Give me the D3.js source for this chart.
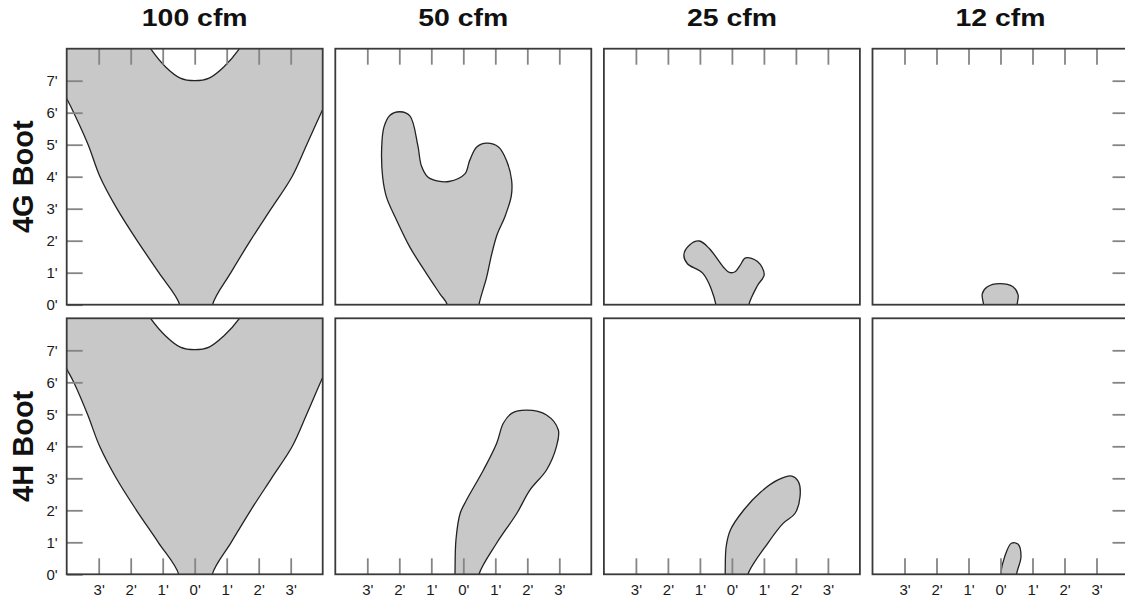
<!DOCTYPE html>
<html>
<head>
<meta charset="utf-8">
<script src="https://cdn.jsdelivr.net/npm/d3@7"></script>
<style>
  body { margin: 0; background: #fff; }
  svg { display: block; }
</style>
</head>
<body>
<script>
// column and row labels
const cfmLabels = ["100 cfm", "50 cfm", "25 cfm", "12 cfm"];
const bootLabels = ["4G Boot", "4H Boot"];

// tick values (feet)
const xTicks = [-3, -2, -1, 0, 1, 2, 3];
const yTicks = [0, 1, 2, 3, 4, 5, 6, 7];
const yTicksRight = [1, 2, 3, 4, 5, 6, 7];

// contour outlines, [x ft, height ft]
// points outside the panel get clipped away
const g100 = [[-0.47, 0], [-1.12, 1], [-1.8, 2], [-2.43, 3], [-2.96, 4], [-3.33, 5], [-3.78, 6],
  [-3.97, 6.38], [-4.5, 7.3], [-4.5, 8.6], [-1.75, 8.6], [-1.38, 8], [-0.9, 7.42], [-0.45, 7.08],
  [0, 7.0], [0.45, 7.08], [0.9, 7.42], [1.4, 8], [1.75, 8.6], [4.5, 8.6], [4.5, 7.2],
  [4.02, 6.15], [3.5, 5], [3.04, 4], [2.39, 3], [1.74, 2], [1.13, 1], [0.56, 0],
  [0.58, -0.6], [-0.5, -0.6]];
const g50 = [[-0.5, 0], [-0.73, 0.34], [-1.15, 0.97], [-1.67, 1.8], [-2.08, 2.63], [-2.4, 3.36],
  [-2.52, 3.99], [-2.55, 4.93], [-2.48, 5.55], [-2.29, 5.92], [-1.98, 6.03], [-1.67, 5.9],
  [-1.42, 4.97], [-1.31, 4.34], [-1.1, 3.98], [-0.78, 3.86], [-0.45, 3.85], [0.05, 4.09],
  [0.2, 4.51], [0.42, 4.93], [0.73, 5.05], [1.1, 4.93], [1.35, 4.51], [1.51, 3.89], [1.5, 3.4],
  [1.3, 2.75], [1.06, 2.2], [0.89, 1.59], [0.73, 0.86], [0.49, 0], [0.45, -0.5], [-0.5, -0.5]];
const g25 = [[-0.5, 0], [-0.9, 0.97], [-1.39, 1.28], [-1.5, 1.56], [-1.33, 1.86], [-1.02, 1.99],
  [-0.7, 1.75], [-0.27, 1.18], [-0.08, 1.01], [0.1, 1.03], [0.25, 1.22], [0.43, 1.46], [0.8, 1.35],
  [1.01, 0.94], [0.8, 0.6], [0.53, 0], [0.5, -0.5], [-0.5, -0.5]];
const g12 = [[-0.53, 0], [-0.57, 0.34], [-0.41, 0.56], [-0.03, 0.66], [0.39, 0.56], [0.55, 0.31],
  [0.52, 0], [0.52, -0.5], [-0.53, -0.5]];

const h100 = [[-0.5, 0], [-1.14, 1], [-1.82, 2], [-2.45, 3], [-2.97, 4], [-3.35, 5], [-3.78, 6],
  [-3.97, 6.36], [-4.5, 7.3], [-4.5, 8.6], [-1.75, 8.6], [-1.38, 8], [-0.9, 7.44], [-0.45, 7.1],
  [0, 7.02], [0.45, 7.1], [0.9, 7.44], [1.4, 8], [1.75, 8.6], [4.5, 8.6], [4.5, 7.2],
  [4.02, 6.2], [3.5, 5], [3.05, 4], [2.4, 3], [1.75, 2], [1.14, 1], [0.55, 0],
  [0.58, -0.6], [-0.52, -0.6]];
const h50 = [[-0.26, 0], [-0.23, 1.07], [-0.1, 1.9], [0.1, 2.32], [0.63, 3.26], [1.04, 4.09],
  [1.25, 4.72], [1.51, 5.03], [1.98, 5.13], [2.6, 4.98], [2.97, 4.51], [2.91, 3.99], [2.6, 3.26],
  [2.08, 2.63], [1.67, 1.9], [1.04, 0.97], [0.49, 0], [0.45, -0.5], [-0.27, -0.5]];
const h25 = [[-0.21, 0], [-0.18, 0.86], [-0.05, 1.38], [0.37, 2.01], [0.91, 2.58], [1.44, 2.95],
  [1.87, 3.07], [2.08, 2.89], [2.13, 2.43], [1.97, 1.9], [1.6, 1.59], [1.12, 0.97], [0.5, 0],
  [0.45, -0.5], [-0.22, -0.5]];
const h12 = [[0.0, 0], [0.13, 0.55], [0.34, 0.97], [0.55, 0.94], [0.64, 0.55], [0.5, 0],
  [0.47, -0.5], [-0.03, -0.5]];

const contours = [[g100, g50, g25, g12], [h100, h50, h25, h12]];

// layout
const PANEL = 256;
const MARGINS = {left: 66.7, top: 48.7};
const COL_STEP = 268.6;
const ROW_STEP = 269.6;
const TICK = 16;
const FONT = "'Liberation Sans', Arial, Helvetica, sans-serif";

const svg = d3.select("body").append("svg")
  .attr("width", 1125)
  .attr("height", 601);

svg.append("defs").append("clipPath")
  .attr("id", "panel-clip")
  .append("rect")
    .attr("width", PANEL)
    .attr("height", PANEL);

// feet -> pixels inside a panel
const X_SCALE = d3.scaleLinear().domain([-4, 4]).range([0, PANEL]);
const Y_SCALE = d3.scaleLinear().domain([0, 8]).range([PANEL, 0]);

const outline = d3.line()
  .x(d => X_SCALE(d[0]))
  .y(d => Y_SCALE(d[1]))
  .curve(d3.curveCatmullRomClosed.alpha(0.5));

function styleAxis(sel) {
  sel.select(".domain").remove();
  sel.attr("font-family", FONT).attr("font-size", 15);
  sel.selectAll(".tick line").attr("stroke", "#858585").attr("stroke-width", 1.8);
  sel.selectAll(".tick text").attr("fill", "#1a1a1a");
}

const fmt = d => Math.abs(d) + "'";

bootLabels.forEach((boot, r) => {
  cfmLabels.forEach((cfm, c) => {
    const g = svg.append("g")
      .attr("transform", "translate(" + (MARGINS.left + c * COL_STEP) + "," + (MARGINS.top + r * ROW_STEP) + ")");

    g.append("rect")
      .attr("width", PANEL)
      .attr("height", PANEL)
      .attr("fill", "#fff");

    g.append("path")
      .datum(contours[r][c])
      .attr("d", outline)
      .attr("clip-path", "url(#panel-clip)")
      .attr("fill", "#c8c8c8")
      .attr("stroke", "#222")
      .attr("stroke-width", 1.3);

    // x ticks: top row inward from the top, bottom row inward from the bottom with labels
    if (r === 0) {
      g.append("g")
        .call(d3.axisTop(X_SCALE).tickValues(xTicks).tickSizeInner(-TICK).tickSizeOuter(0).tickFormat(""))
        .call(styleAxis);
    } else {
      g.append("g")
        .attr("transform", "translate(0," + PANEL + ")")
        .call(d3.axisBottom(X_SCALE).tickValues(xTicks).tickSizeInner(-TICK).tickSizeOuter(0)
          .tickPadding(10).tickFormat(fmt))
        .call(styleAxis);
    }

    // y ticks on the outer columns
    if (c === 0) {
      g.append("g")
        .call(d3.axisLeft(Y_SCALE).tickValues(yTicks).tickSizeInner(-TICK).tickSizeOuter(0)
          .tickPadding(9).tickFormat(fmt))
        .call(styleAxis);
    }
    if (c === cfmLabels.length - 1) {
      g.append("g")
        .attr("transform", "translate(" + PANEL + ",0)")
        .call(d3.axisRight(Y_SCALE).tickValues(yTicksRight).tickSizeInner(-TICK).tickSizeOuter(0).tickFormat(""))
        .call(styleAxis);
    }

    g.append("rect")
      .attr("width", PANEL)
      .attr("height", PANEL)
      .attr("fill", "none")
      .attr("stroke", "#3a3a3a")
      .attr("stroke-width", 1.8);
  });
});

// column titles (drawn wide like the original)
svg.selectAll(".col-title")
  .data(cfmLabels)
  .enter()
  .append("text")
    .attr("class", "col-title")
    .attr("transform", (d, i) => "translate(" + (MARGINS.left + i * COL_STEP + PANEL / 2) + ",25.5) scale(1.22,1)")
    .attr("text-anchor", "middle")
    .attr("font-family", FONT)
    .attr("font-weight", "bold")
    .attr("font-size", 23.3)
    .attr("fill", "#111")
    .text(d => d);

// row titles
svg.selectAll(".row-title")
  .data(bootLabels)
  .enter()
  .append("text")
    .attr("class", "row-title")
    .attr("transform", (d, i) => "translate(33," + (MARGINS.top + i * ROW_STEP + PANEL / 2) + ") rotate(-90)")
    .attr("text-anchor", "middle")
    .attr("font-family", FONT)
    .attr("font-weight", "bold")
    .attr("font-size", 29)
    .attr("fill", "#111")
    .text(d => d);
</script>
</body>
</html>
